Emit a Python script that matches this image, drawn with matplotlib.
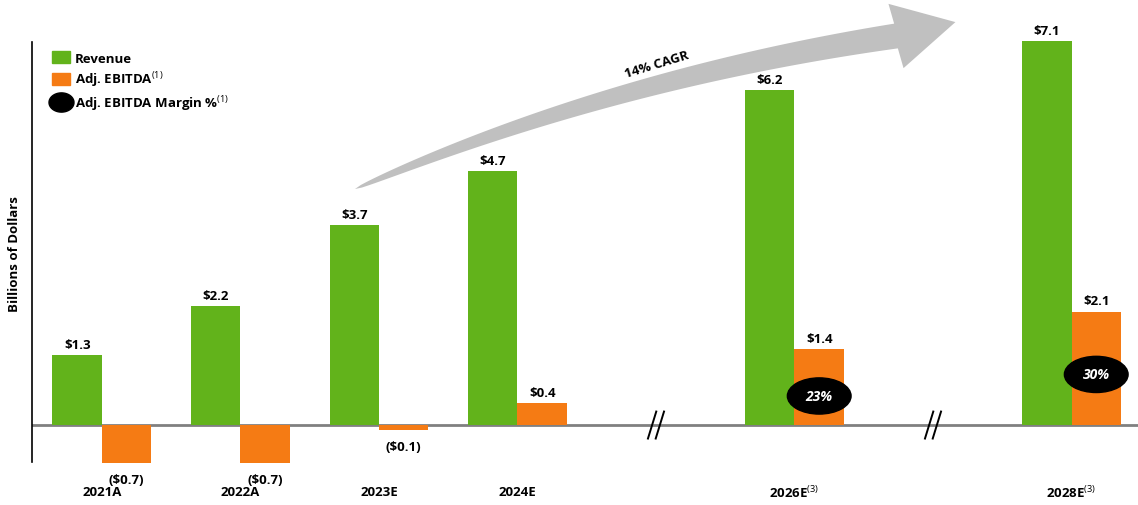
import numpy as np
import matplotlib
matplotlib.use("Agg")
import matplotlib.pyplot as plt
from matplotlib.patches import Patch, Ellipse, Polygon
from matplotlib.lines import Line2D
from matplotlib.path import Path

plt.rcParams['font.family'] = ['Open Sans', 'DejaVu Sans']
plt.rcParams['font.weight'] = 'bold'
plt.rcParams['mathtext.fontset'] = 'custom'
plt.rcParams['mathtext.rm'] = 'Open Sans:weight=normal'

# data (billions of dollars)
years = ['2021A', '2022A', '2023E', '2024E', r'2026E$^{(3)}$', r'2028E$^{(3)}$']
slots = [0, 1, 2, 3, 5, 7]          # gaps at 4 and 6 for the axis breaks
revenue = [1.3, 2.2, 3.7, 4.7, 6.2, 7.1]
ebitda = [-0.7, -0.7, -0.1, 0.4, 1.4, 2.1]
margin = [None, None, None, None, 23, 30]   # Adj. EBITDA margin %
cagr_label = '14% CAGR'

GREEN = '#62B31B'
ORANGE = '#F57B14'
W = 1138
H = 506

fig = plt.figure(figsize=(W / 100, H / 100), dpi=100)
# axes box in pixels: left 32, right 1138, top 43, bottom 463
ax = fig.add_axes([32 / W, 1 - 463 / H, (W - 32) / W, (463 - 43) / H])
ax.patch.set_visible(False)

bw = 0.357
x = np.array(slots, dtype=float)

def money(v):
    return '($%.1f)' % abs(v) if v < 0 else '$%.1f' % v

rb = ax.bar(x - bw / 2, revenue, bw, color=GREEN, clip_on=False, zorder=2)
eb = ax.bar(x + bw / 2, ebitda, bw, color=ORANGE, clip_on=False, zorder=2)

for bars, vals in ((rb, revenue), (eb, ebitda)):
    for b, v in zip(bars, vals):
        cx = b.get_x() + b.get_width() / 2
        if v >= 0:
            ax.annotate(money(v), (cx, v), xytext=(0, 3), textcoords='offset points',
                        ha='center', va='bottom', fontsize=9.5, fontweight='bold',
                        annotation_clip=False)
        else:
            ax.annotate(money(v), (cx, v), xytext=(0, -7), textcoords='offset points',
                        ha='center', va='top', fontsize=9.5, fontweight='bold',
                        annotation_clip=False)

# margin bubbles on the EBITDA bars
for xi, e, m in zip(x, ebitda, margin):
    if m is None:
        continue
    cy = 0.57 * e - 0.26
    ax.add_patch(Ellipse((xi + bw / 2, cy), 0.46, 0.67, color='black', zorder=3))
    ax.text(xi + bw / 2, cy, '%d%%' % m, color='white', fontsize=10,
            fontweight='bold', fontstyle='italic', ha='center', va='center', zorder=4)

# category labels under the axis
for xi, lab in zip(x, years):
    ax.annotate(lab, (xi, 13), xycoords=('data', 'figure pixels'),
                ha='center', va='center', fontsize=9.5, fontweight='bold',
                annotation_clip=False)

ax.set_xlim(-0.505, 7.48)
ax.set_ylim(-0.684, 7.09)
ax.axhline(0, color='#808080', lw=2, zorder=1)

# axis break marks
for bx in (4, 6):
    for dx in (-0.028, 0.028):
        ax.plot([bx + dx - 0.03, bx + dx + 0.03], [-0.25, 0.25], color='black',
                lw=1.4, zorder=3)

for s in ('top', 'right', 'bottom'):
    ax.spines[s].set_visible(False)
ax.spines['left'].set_linewidth(1.2)
ax.set_xticks([])
ax.set_yticks([])

fig.text(15 / W, 1 - 254 / H, 'Billions of Dollars', rotation=90, ha='center',
         va='center', fontsize=9.5, fontweight='bold')

# legend
t = np.linspace(0, 2 * np.pi, 60)
oval = Path(np.column_stack([1.3 * np.cos(t), np.sin(t)]))
handles = [
    Patch(color=GREEN, label='Revenue'),
    Patch(color=ORANGE, label=r'Adj. EBITDA$^{(1)}$'),
    Line2D([], [], ls='none', marker=oval, markersize=18, color='black',
           label=r'Adj. EBITDA Margin %$^{(1)}$'),
]
fig.legend(handles=handles, loc='upper left', bbox_to_anchor=(52 / W, 1 - 52 / H),
           frameon=False, handlelength=1.35, handleheight=1.05,
           handletextpad=0.4, labelspacing=0.35, borderaxespad=0, borderpad=0,
           prop={'weight': 'bold', 'size': 9.5})

# curved CAGR arrow, built in pixel coordinates (y down)
p0 = np.array([355.0, 190.0])
p1 = np.array([610.0, 80.0])
p2 = np.array([896.0, 37.0])
tt = np.linspace(0, 1, 80)[:, None]
curve = (1 - tt) ** 2 * p0 + 2 * (1 - tt) * tt * p1 + tt ** 2 * p2
tang = 2 * (1 - tt) * (p1 - p0) + 2 * tt * (p2 - p1)
tang /= np.linalg.norm(tang, axis=1)[:, None]
norm = np.column_stack([-tang[:, 1], tang[:, 0]])
half = 12.5 * tt ** 0.5
upper = curve - norm * half
lower = curve + norm * half
d = np.array([0.974, -0.228])
n = np.array([0.228, 0.974])
tip = p2 + d * 61
head = [p2 - n * 33, tip, p2 + n * 33]
pts = np.vstack([upper, head, lower[::-1]])
pts_fig = np.column_stack([pts[:, 0] / W, 1 - pts[:, 1] / H])
fig.add_artist(Polygon(pts_fig, closed=True, transform=fig.transFigure,
                       color='#c0c0c0', lw=0, zorder=-1))
fig.text(657 / W, 1 - 65 / H, cagr_label, rotation=17, ha='center', va='center',
         fontsize=9.5, fontweight='bold')

fig.savefig('out.png', dpi=100)
